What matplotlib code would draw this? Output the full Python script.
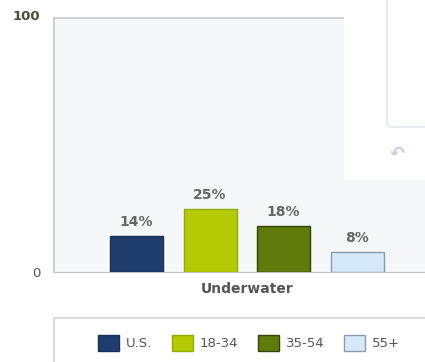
import matplotlib
matplotlib.use("Agg")
import matplotlib.pyplot as plt
from matplotlib.patches import Rectangle, FancyBboxPatch
import matplotlib.transforms as mtransforms

# Data
category = "Underwater"
groups = ["U.S.", "18-34", "35-54", "55+"]
values = [14, 25, 18, 8]
value_labels = ["14%", "25%", "18%", "8%"]
y_ticks = [0, 100]
y_tick_labels = ["0", "100"]

face_colors = ["#1f3d6c", "#b4cb04", "#607b0c", "#d6e9f9"]
edge_colors = ["#15305a", "#94aa00", "#34460a", "#8a9aa8"]

W, H = 425, 362
fig = plt.figure(figsize=(W / 100, H / 100), dpi=100)
fig.patch.set_facecolor("white")

def fx(px):
    return px / W

def fy(py):
    return 1 - py / H

# plot area: x 54..425, y 18..272
ax = fig.add_axes([fx(54), fy(272), fx(W - 54), (272 - 18) / H])
ax.set_facecolor("#f6f7f9")

pitch = 73.5
x = list(range(len(values)))
left = -(136.5 - 54) / pitch
ax.set_xlim(left, left + (W - 54) / pitch)
ax.set_ylim(0, 100)

bars = ax.bar(x, values, width=53 / pitch, color=face_colors,
              edgecolor=edge_colors, linewidth=1.0, zorder=3)

for b, lab in zip(bars, value_labels):
    ax.annotate(lab, (b.get_x() + b.get_width() / 2, b.get_height()),
                xytext=(0, 5), textcoords="offset points",
                ha="center", va="bottom", fontsize=10, fontweight="bold",
                color="#666666")

ax.set_yticks(y_ticks)
ax.set_yticklabels(y_tick_labels)
ax.tick_params(axis="y", length=0, pad=10, labelsize=9.5, labelcolor="#555555")
shift = mtransforms.ScaledTranslation(0, 2 / 72, fig.dpi_scale_trans)
for lbl in ax.get_yticklabels():
    if lbl.get_text() == "100":
        lbl.set_fontweight("bold")
        lbl.set_color("#4a4d40")
        lbl.set_transform(lbl.get_transform() + shift)
ax.set_xticks([1.5])
ax.set_xticklabels([category])
ax.tick_params(axis="x", length=0, pad=7, labelsize=10, labelcolor="#555555")
for lbl in ax.get_xticklabels():
    lbl.set_fontweight("bold")

ax.spines["right"].set_visible(False)
ax.spines["left"].set_color("#c8c8c8")
ax.spines["top"].set_color("#c8c8c8")
ax.spines["bottom"].set_color("#c0c0c0")
ax.spines["left"].set_linewidth(1.2)
ax.spines["top"].set_linewidth(1.2)

# overlay white popup area
fig.patches.append(Rectangle((fx(344), fy(179)), fx(W - 344) + 0.01, 179 / H + 0.01,
                             transform=fig.transFigure, facecolor="white",
                             edgecolor="none", zorder=10))
fig.patches.append(FancyBboxPatch((fx(387), fy(127)), fx(60), 140 / H,
                                  boxstyle="round,pad=0,rounding_size=0.012",
                                  transform=fig.transFigure, facecolor="white",
                                  edgecolor="#dfe5ec", linewidth=1.0, zorder=11))
fig.text(fx(397), fy(153), "\u21b6", fontsize=13, fontweight="bold",
         color="#c5d0db", ha="center", va="center", zorder=12)

# legend box
fig.patches.append(Rectangle((fx(54), -0.05), fx(W - 54) + 0.05, fy(318) + 0.05,
                             transform=fig.transFigure, facecolor="white",
                             edgecolor="#d4d4d4", linewidth=1.2, zorder=1))
fs = 9.5
fs_px = fs * 100 / 72
leg = fig.legend(bars, groups, loc="center", bbox_to_anchor=(fx(249), fy(343)),
                 ncol=4, frameon=False, fontsize=fs,
                 handlelength=21 / fs_px, handleheight=21 / fs_px,
                 handletextpad=0.55, columnspacing=1.45, borderaxespad=0)
for t in leg.get_texts():
    t.set_color("#555555")
leg.set_zorder(20)

fig.savefig("out.png", dpi=100)
